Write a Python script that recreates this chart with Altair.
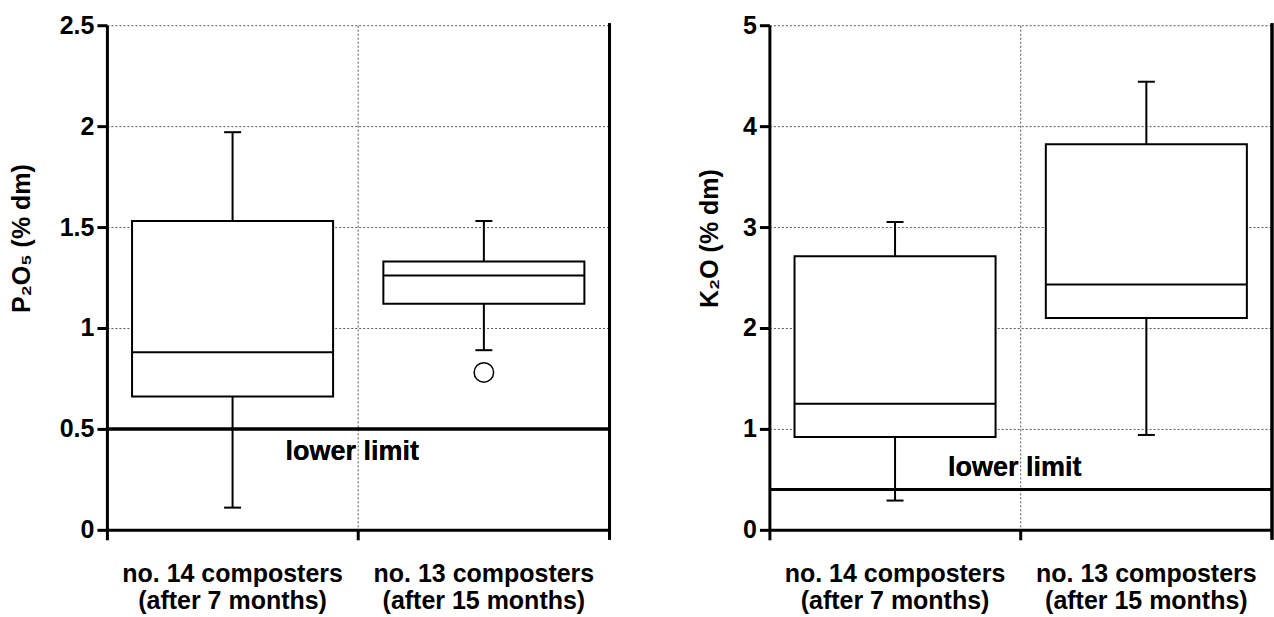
import altair as alt
import pandas as pd

# ---- data ----
cat_line1 = ["no. 14 composters", "no. 13 composters"]
cat_line2 = ["(after 7 months)", "(after 15 months)"]

# P2O5 panel
p_low = [0.11, 0.89]
p_q1 = [0.66, 1.12]
p_med = [0.88, 1.26]
p_q3 = [1.53, 1.33]
p_high = [1.97, 1.53]
p_out_cat = [1]
p_out_val = [0.78]

# K2O panel
k_low = [0.29, 0.94]
k_q1 = [0.92, 2.10]
k_med = [1.25, 2.43]
k_q3 = [2.71, 3.82]
k_high = [3.05, 4.44]

limits = [0.5, 0.4]
p_ticks = [0, 0.5, 1, 1.5, 2, 2.5]
k_ticks = [0, 1, 2, 3, 4, 5]

FONT = "Liberation Sans"
W, H = 503, 505
cats = [a + "|" + b for a, b in zip(cat_line1, cat_line2)]


def make_df(low, q1, med, q3, high):
    return pd.DataFrame({"cat": cats, "low": low, "q1": q1, "med": med,
                         "q3": q3, "high": high})


def panel(df, out_df, limit, ymax, yticks, title, title_x, limit_dy):
    x_axis = alt.Axis(
        title=None, labelExpr="split(datum.label, '|')", bandPosition=0,
        labelAngle=0, labelLimit=0, labelOverlap=False,
        labelFont=FONT, labelFontSize=25, labelFontWeight="bold",
        labelColor="black", labelPadding=22, labelLineHeight=27,
        grid=True, gridDash=[2, 2], gridColor="#555", gridWidth=1,
        domainColor="black", domainWidth=3, tickColor="black", tickWidth=3,
        tickSize=10)
    y_axis = alt.Axis(
        values=yticks, labelExpr="'' + datum.value", title=title,
        titleFont=FONT, titleFontSize=25, titleFontWeight="bold",
        titleColor="black", titleAngle=270, titleAlign="center",
        titleBaseline="middle", titleX=title_x, titleY=213,
        labelFont=FONT, labelFontSize=25, labelFontWeight="bold",
        labelColor="black", labelPadding=3,
        grid=True, gridDash=[2, 2], gridColor="#555", gridWidth=1,
        domainColor="black", domainWidth=3, tickColor="black", tickWidth=3,
        tickSize=10)
    x_enc = alt.X("cat:N", sort=cats,
                  scale=alt.Scale(paddingInner=0, paddingOuter=0),
                  axis=x_axis)
    yscale = alt.Scale(domain=[0, ymax], nice=False, zero=True)

    def Y(f):
        return alt.Y(f + ":Q", scale=yscale, axis=y_axis)

    base = alt.Chart(df)
    whisk = base.mark_rule(color="black", strokeWidth=2).encode(
        x=x_enc, y=Y("low"), y2="high:Q")
    box = base.mark_bar(fill="white", stroke="black", strokeWidth=2,
                        width=alt.RelativeBandSize(0.8)).encode(
        x=x_enc, y=Y("q1"), y2="q3:Q")
    med = base.mark_tick(color="black", size=201, thickness=2,
                         opacity=1).encode(x=x_enc, y=Y("med"))
    cap_lo = base.mark_tick(color="black", size=17, thickness=2,
                            opacity=1).encode(x=x_enc, y=Y("low"))
    cap_hi = base.mark_tick(color="black", size=17, thickness=2,
                            opacity=1).encode(x=x_enc, y=Y("high"))
    limit_rule = base.mark_rule(color="black", strokeWidth=3).encode(
        y=alt.datum(limit, scale=yscale))
    limit_txt = base.mark_text(
        text="lower limit", font=FONT, fontSize=27, fontWeight="bold",
        color="black", dy=limit_dy, dx=-6, baseline="middle",
        align="center").encode(x=alt.value(W / 2),
                               y=alt.datum(limit, scale=yscale))
    border = base.mark_rule(color="black", strokeWidth=3).encode(
        x=alt.value(W), y=alt.value(-2), y2=alt.value(H + 10))
    layers = [whisk, box, med, cap_lo, cap_hi, limit_rule, limit_txt, border]
    if out_df is not None:
        pts = alt.Chart(out_df).mark_point(
            shape="circle", size=380, filled=False, color="black",
            strokeWidth=1.5, fill="white", opacity=1).encode(
            x=x_enc, y=Y("val"))
        layers.append(pts)
    return alt.layer(*layers).properties(width=W, height=H)


p_df = make_df(p_low, p_q1, p_med, p_q3, p_high)
p_out = pd.DataFrame({"cat": [cats[i] for i in p_out_cat], "val": p_out_val})
k_df = make_df(k_low, k_q1, k_med, k_q3, k_high)

left = panel(p_df, p_out, limits[0], 2.5, p_ticks, "P\u2082O\u2085 (% dm)",
             -85, 23)
right = panel(k_df, None, limits[1], 5, k_ticks, "K\u2082O (% dm)",
              -60, -21)

chart = alt.hconcat(left, right, spacing=86).properties(
    padding={"left": 10, "top": 13, "right": 0, "bottom": 0},
    background="white"
).configure_view(strokeWidth=0)

chart.save("out.html", embed_options={"renderer": "svg", "actions": False})
